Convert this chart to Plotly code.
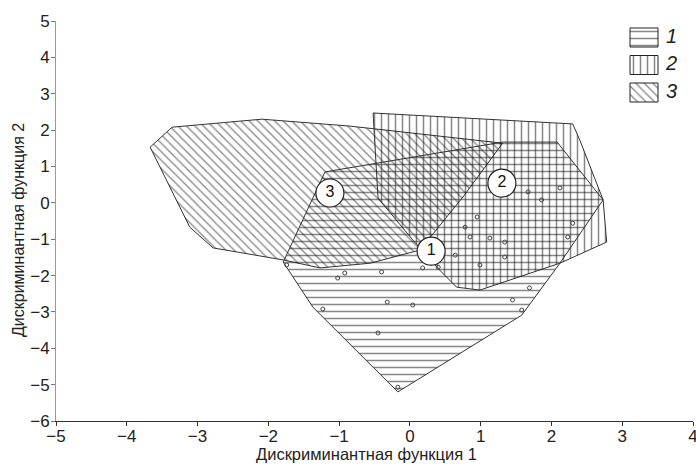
import plotly.graph_objects as go

# Polygon (group territory) vertices in discriminant-function coordinates
g1_x = [-1.79, -1.20, 1.31, 2.08, 2.73, 2.12, 1.58, -0.17, -1.37, -1.79]
g1_y = [-1.63, 0.85, 1.67, 1.67, 0.08, -1.66, -3.09, -5.20, -2.87, -1.63]

g2_x = [-0.52, 2.30, 2.40, 2.73, 2.78, 2.12, 0.99, 0.66, 0.42, 0.04, -0.45, -0.52]
g2_y = [2.47, 2.17, 1.73, 0.08, -1.08, -1.66, -2.40, -2.32, -1.85, -1.02, 0.13, 2.47]

g3_x = [-3.67, -3.36, -2.09, -0.85, 1.31, 0.75, 0.14, -0.56, -1.27, -1.79, -2.78, -3.11, -3.67]
g3_y = [1.53, 2.08, 2.30, 2.11, 1.64, 0.16, -1.30, -1.66, -1.79, -1.57, -1.24, -0.67, 1.53]

# Group centroid labels
lab_x = [0.30, 1.30, -1.13]
lab_y = [-1.33, 0.54, 0.27]
lab_t = ["1", "2", "3"]

# Observation points
pt_x = [-0.92, -0.40, 0.18, 0.40, -0.32, 0.04, -0.45, 1.45, 1.58, 1.69, -0.17, 0.99,
        0.64, 0.85, 1.34, 1.34, 1.13, -1.74, -1.02, -1.23, 1.67, 1.86, 2.12, 2.30,
        0.78, 2.23, 0.95]
pt_y = [-1.93, -1.90, -1.79, -1.77, -2.73, -2.81, -3.58, -2.67, -2.95, -2.34, -5.07, -1.71,
        -1.44, -0.94, -1.08, -1.49, -0.97, -1.71, -2.07, -2.92, 0.30, 0.08, 0.41, -0.56,
        -0.67, -0.94, -0.39]

legend_names = ["1", "2", "3"]
legend_shapes = ["-", "|", "\\"]
legend_sizes = [7, 7, 6]

FONT = "Liberation Sans, Arial, sans-serif"
W, H = 696, 466
ML, MR, MT, MB = 56, 3, 21, 45

fig = go.Figure()

def pat(shape, size):
    return dict(shape=shape, size=size, solidity=0.22,
                fgcolor="#111111", bgcolor="rgba(0,0,0,0)")

def poly(x, y, shape, size):
    fig.add_trace(go.Scatter(
        x=x, y=y, mode="lines", fill="toself", showlegend=False,
        line=dict(color="#333333", width=1),
        fillcolor="rgba(0,0,0,0)",
        fillpattern=pat(shape, size),
        hoverinfo="skip",
    ))

poly(g3_x, g3_y, legend_shapes[2], legend_sizes[2])
poly(g2_x, g2_y, legend_shapes[1], legend_sizes[1])
poly(g1_x, g1_y, legend_shapes[0], legend_sizes[0])

fig.add_trace(go.Scatter(
    x=pt_x, y=pt_y, mode="markers", showlegend=False,
    marker=dict(symbol="circle-open", size=4, color="#444444", line=dict(width=1)),
    hoverinfo="skip",
))

fig.add_trace(go.Scatter(
    x=lab_x, y=lab_y, mode="markers+text", text=lab_t, showlegend=False,
    textposition="middle center",
    textfont=dict(family=FONT, size=16, color="#111111"),
    marker=dict(symbol="circle", size=28, color="white", line=dict(color="#222222", width=1.2)),
    hoverinfo="skip",
))

# Custom legend drawn on an overlay axis in screen-pixel units
bx0, bx1, by0, bh, step = 630, 658, 28, 19, 27.5
for i, (nm, sh, sz) in enumerate(zip(legend_names, legend_shapes, legend_sizes)):
    top = by0 + i * step
    fig.add_trace(go.Scatter(
        x=[bx0, bx1, bx1, bx0, bx0], y=[top, top, top + bh, top + bh, top],
        xaxis="x2", yaxis="y2", mode="lines", fill="toself", showlegend=False,
        line=dict(color="#222222", width=1), fillcolor="rgba(0,0,0,0)",
        fillpattern=pat(sh, sz), hoverinfo="skip",
    ))
    fig.add_trace(go.Scatter(
        x=[666], y=[top + bh / 2], xaxis="x2", yaxis="y2", mode="text",
        text=[nm], textposition="middle right", showlegend=False,
        textfont=dict(family=FONT, size=20, color="#222222", style="italic"),
        hoverinfo="skip",
    ))

fig.update_layout(
    width=W, height=H,
    margin=dict(l=ML, r=MR, t=MT, b=MB),
    paper_bgcolor="white", plot_bgcolor="white",
    font=dict(family=FONT, size=17, color="#222222"),
    showlegend=False,
    xaxis=dict(range=[-5, 4], dtick=1, showgrid=False, zeroline=False, automargin=False,
               showline=True, linecolor="#333333", linewidth=1, ticks="outside", ticklen=4,
               tickcolor="#333333", ticklabeloverflow="allow", ticklabelstandoff=-4),
    yaxis=dict(range=[-6, 5], dtick=1, showgrid=False, zeroline=False, automargin=False,
               showline=True, linecolor="#999999", linewidth=1, ticks="outside", ticklen=4,
               tickcolor="#777777", ticklabeloverflow="allow", ticklabelstandoff=-2),
    xaxis2=dict(overlaying="x", range=[ML, W - MR], visible=False),
    yaxis2=dict(overlaying="y", range=[H - MB, MT], visible=False),
    annotations=[
        dict(text="Дискриминантная функция 1", xref="paper", yref="paper",
             x=(366 - ML) / (W - ML - MR), y=-(454 - (H - MB)) / (H - MT - MB),
             xanchor="center", yanchor="middle", showarrow=False,
             font=dict(family=FONT, size=16.5, color="#222222")),
        dict(text="Дискриминантная функция 2", xref="paper", yref="paper",
             x=-(ML - 18) / (W - ML - MR), y=(H - MB - 230) / (H - MT - MB),
             xanchor="center", yanchor="middle", textangle=-90, showarrow=False,
             font=dict(family=FONT, size=16, color="#222222")),
    ],
)

fig.write_html("out.html", config={"displayModeBar": False},
               post_script="document.body.style.margin='0';document.body.style.overflow='hidden';")
